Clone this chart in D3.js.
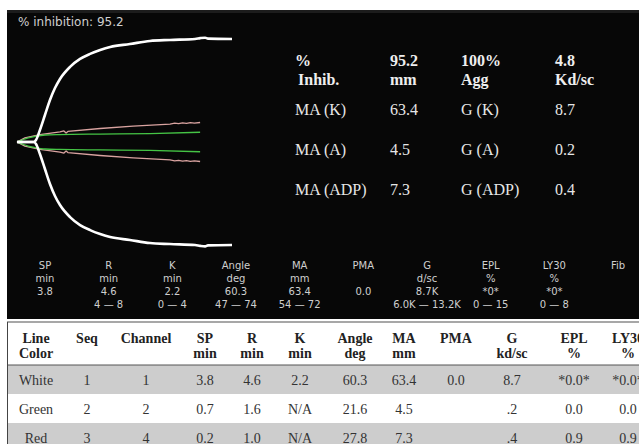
<!DOCTYPE html>
<html>
<head>
<meta charset="utf-8">
<script src="https://d3js.org/d3.v7.min.js"></script>
<style>
  body { margin: 0; background: #fff; }
</style>
</head>
<body>
<div id="chartContainer"></div>
<script>
  // TEG tracings: time (min) and amplitude (mm)
  var whiteT   = [0, 4.7, 5.3, 6.4, 7.8, 9.2, 10.6, 12.0, 14.8, 17.6, 20.4, 23.2, 26.0, 31.5, 37.1, 42.7, 49.7, 51.1, 52.5, 53.3, 60];
  var whiteAmp = [0, 0, 1.2, 7.4, 16.6, 25.8, 33.2, 38.8, 46.2, 51.1, 54.2, 56.6, 58.5, 60.3, 62.2, 62.8, 63.4, 63.9, 64.2, 63.6, 63.4];
  var greenT   = [0, 1.4, 3.1, 5.0, 7.8, 12.0, 23.2, 37.1, 51.1];
  var greenAmp = [0, 1.2, 2.5, 3.4, 4.3, 4.6, 4.9, 5.2, 6.0];
  var redT     = [0, 2.2, 6.4, 12.0, 13.1, 13.7, 14.2, 23.2, 32.4, 42.7, 44.0, 45.1, 46.2, 47.3, 48.4, 49.5, 51.1];
  var redAmp   = [0, 2.5, 4.6, 6.2, 6.8, 5.5, 6.5, 8.3, 9.8, 11.0, 11.6, 11.3, 11.8, 11.4, 11.9, 11.6, 12.0];

  var inhibText = "% inhibition: 95.2";

  // right side summary in the black panel
  var topHead = [["%", "Inhib."], ["95.2", "mm"], ["100%", "Agg"], ["4.8", "Kd/sc"]];
  var maRows = [
    ["MA (K)", "63.4", "G (K)", "8.7"],
    ["MA (A)", "4.5", "G (A)", "0.2"],
    ["MA (ADP)", "7.3", "G (ADP)", "0.4"]
  ];

  // parameter strip
  var sumNames  = ["SP", "R", "K", "Angle", "MA", "PMA", "G", "EPL", "LY30", "Fib"];
  var sumUnits  = ["min", "min", "min", "deg", "mm", "", "d/sc", "%", "%", ""];
  var sumValues = ["3.8", "4.6", "2.2", "60.3", "63.4", "0.0", "8.7K", "*0*", "*0*", ""];
  var sumRanges = ["", "4 \u2014 8", "0 \u2014 4", "47 \u2014 74", "54 \u2014 72", "", "6.0K \u2014 13.2K", "0 \u2014 15", "0 \u2014 8", ""];

  // results table
  var tblHead1 = ["Line", "Seq", "Channel", "SP", "R", "K", "Angle", "MA", "PMA", "G", "EPL", "LY30"];
  var tblHead2 = ["Color", "", "", "min", "min", "min", "deg", "mm", "", "kd/sc", "%", "%"];
  var tblRows = [
    ["White", "1", "1", "3.8", "4.6", "2.2", "60.3", "63.4", "0.0", "8.7", "*0.0*", "*0.0*"],
    ["Green", "2", "2", "0.7", "1.6", "N/A", "21.6", "4.5", "", ".2", "0.0", "0.0"],
    ["Red", "3", "4", "0.2", "1.0", "N/A", "27.8", "7.3", "", ".4", "0.9", "0.9"]
  ];

  var W = 639, H = 444;
  var svg = d3.select("#chartContainer").append("svg")
    .attr("width", W).attr("height", H);

  // black monitor panel
  svg.append("rect").attr("x", 7).attr("y", 10).attr("width", W - 7).attr("height", 309)
    .style("fill", "#070707");
  svg.append("line").attr("x1", 7).attr("x2", W).attr("y1", 11.5).attr("y2", 11.5)
    .style("stroke", "#1c1c1c").style("stroke-width", 3);

  svg.append("text").attr("x", 18).attr("y", 26)
    .style("font-family", "DejaVu Sans").style("font-size", "12px").style("fill", "#cfcfcf")
    .text(inhibText);

  // scales for the tracing
  var x = d3.scaleLinear().domain([0, 60]).range([17, 232]);
  var y = d3.scaleLinear().domain([-40, 40]).range([272, 12]);   // displacement from centre line

  function trace(ts, amps, color, width, curve) {
    var pts = ts.map(function (t, i) { return [t, amps[i]]; });
    [1, -1].forEach(function (sgn) {
      var line = d3.line()
        .x(function (d) { return x(d[0]); })
        .y(function (d) { return y(sgn * d[1] / 2); })
        .curve(curve);
      svg.append("path").datum(pts)
        .attr("d", line)
        .style("fill", "none")
        .style("stroke", color)
        .style("stroke-width", width)
        .style("stroke-linejoin", "round");
    });
  }
  trace(redT, redAmp, "#d9a3a0", 1.3, d3.curveLinear);
  trace(greenT, greenAmp, "#45c445", 1.3, d3.curveMonotoneX);
  trace(whiteT, whiteAmp, "#ffffff", 2.6, d3.curveMonotoneX);

  // right text block
  var hdrX = [295, 390, 461, 555];
  var serif = "Liberation Serif";
  topHead.forEach(function (h, i) {
    svg.append("text").attr("x", hdrX[i]).attr("y", 66)
      .style("font-family", serif).style("font-weight", "bold").style("font-size", "16px").style("fill", "#eee")
      .text(h[0]);
    svg.append("text").attr("x", hdrX[i] + (i === 0 ? 3 : 0)).attr("y", 85)
      .style("font-family", serif).style("font-weight", "bold").style("font-size", "16px").style("fill", "#eee")
      .text(h[1]);
  });
  maRows.forEach(function (r, j) {
    r.forEach(function (v, i) {
      svg.append("text").attr("x", hdrX[i]).attr("y", 115 + j * 40)
        .style("font-family", serif).style("font-size", "16px").style("fill", "#e6e6e6")
        .text(v);
    });
  });

  // parameter strip
  var sx = d3.scalePoint().domain(sumNames).range([45, 618]);
  [sumNames, sumUnits, sumValues, sumRanges].forEach(function (rowVals, r) {
    svg.selectAll(null)
      .data(rowVals)
      .enter()
      .append("text")
        .attr("x", function (d, i) { return sx(sumNames[i]); })
        .attr("y", 269 + r * 13)
        .style("text-anchor", "middle")
        .style("font-family", "DejaVu Sans")
        .style("font-size", "10px")
        .style("fill", "#cfcfcf")
        .text(function (d) { return d; });
  });

  // table
  var colX = [36, 87, 146, 205, 252, 300, 355, 404, 456, 512, 574, 628];
  var rowTop = 365, rowH = 29;
  svg.append("line").attr("x1", 7).attr("x2", W).attr("y1", 322).attr("y2", 322)
    .style("stroke", "#8a8a8a").style("stroke-width", 1.5);

  svg.selectAll("rect.row")
    .data(tblRows)
    .enter()
    .append("rect")
      .attr("class", "row")
      .attr("x", 7)
      .attr("y", function (d, i) { return rowTop + i * rowH; })
      .attr("width", W - 7)
      .attr("height", rowH)
      .style("fill", function (d, i) { return i % 2 === 0 ? "#cdcdcd" : "#ffffff"; });

  svg.append("line").attr("x1", 7).attr("x2", W).attr("y1", rowTop).attr("y2", rowTop)
    .style("stroke", "#555").style("stroke-width", 1);
  svg.append("line").attr("x1", 7.5).attr("x2", 7.5).attr("y1", 322).attr("y2", H)
    .style("stroke", "#444").style("stroke-width", 1);

  [tblHead1, tblHead2].forEach(function (hd, r) {
    svg.selectAll(null)
      .data(hd)
      .enter()
      .append("text")
        .attr("x", function (d, i) { return colX[i]; })
        .attr("y", 343 + r * 15)
        .style("text-anchor", "middle")
        .style("font-family", serif)
        .style("font-weight", "bold")
        .style("font-size", "14px")
        .style("fill", "#222")
        .text(function (d) { return d; });
  });

  tblRows.forEach(function (row, j) {
    svg.selectAll(null)
      .data(row)
      .enter()
      .append("text")
        .attr("x", function (d, i) { return colX[i]; })
        .attr("y", rowTop + j * rowH + 20)
        .style("text-anchor", "middle")
        .style("font-family", serif)
        .style("font-size", "14px")
        .style("fill", "#333")
        .text(function (d) { return d; });
  });
</script>
</body>
</html>
